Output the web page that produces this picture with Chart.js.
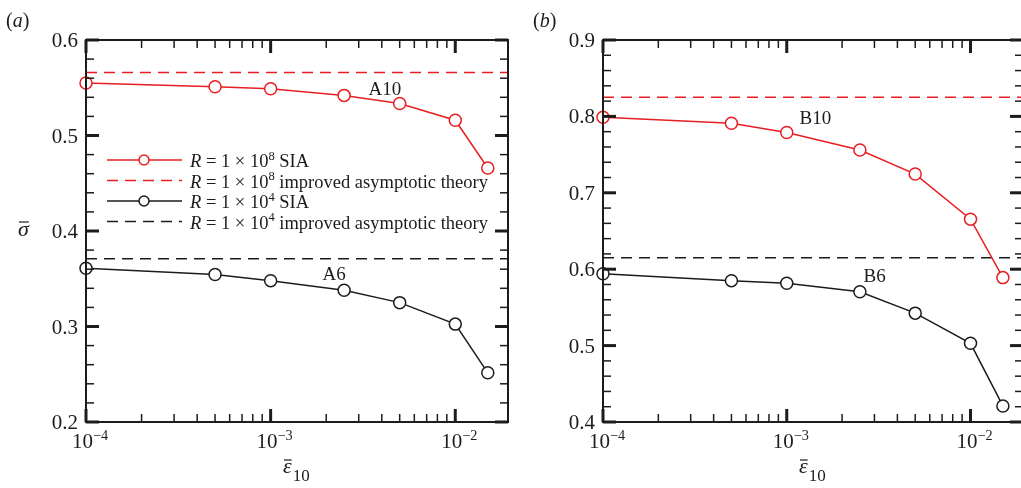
<!DOCTYPE html>
<html>
<head>
<meta charset="utf-8">
<script src="https://cdn.jsdelivr.net/npm/chart.js@4/dist/chart.umd.min.js"></script>
<style>
  html, body { margin: 0; padding: 0; background: #fff; overflow: hidden; width: 1021px; height: 488px; }
  #panelA { position: absolute; left: 0; top: 0; }
  #panelB { position: absolute; left: 510px; top: 0; }
</style>
</head>
<body>
<canvas id="panelA" width="510" height="488"></canvas>
<canvas id="panelB" width="530" height="488"></canvas>
<script>
// strain values shared by every curve
const epsValues = [1e-4, 5e-4, 1e-3, 2.5e-3, 5e-3, 1e-2, 1.5e-2];
const epsRange = [1e-4, 0.0193];

// panel (a): cases A10 (R = 1e8) and A6 (R = 1e4)
const sigmaA10 = [0.555, 0.551, 0.549, 0.542, 0.5335, 0.516, 0.466];
const sigmaA6 = [0.361, 0.3545, 0.348, 0.338, 0.325, 0.3025, 0.2515];
const theoryA10 = 0.566;
const theoryA6 = 0.371;
const yTicksA = [0.2, 0.3, 0.4, 0.5, 0.6];

// panel (b): cases B10 and B6
const sigmaB10 = [0.799, 0.791, 0.779, 0.756, 0.7245, 0.6655, 0.589];
const sigmaB6 = [0.594, 0.585, 0.5815, 0.5705, 0.5425, 0.503, 0.421];
const theoryB10 = 0.825;
const theoryB6 = 0.615;
const yTicksB = [0.4, 0.5, 0.6, 0.7, 0.8, 0.9];

const xTickExponents = [-4, -3, -2];

const RED = 'rgb(232,30,34)';
const INK = '#1c1c1c';
const SERIF = '"Liberation Serif", "Times New Roman", serif';
const TICK_FONT = 21;

function pts(ys) {
  return epsValues.map((e, i) => ({ x: e, y: ys[i] }));
}
function flat(v) {
  return [{ x: epsRange[0], y: v }, { x: epsRange[1], y: v }];
}

function seriesSet(color, sia, theory) {
  return [
    {
      data: pts(sia), borderColor: color, borderWidth: 1.5,
      pointRadius: 6, pointHoverRadius: 6, pointBorderWidth: 1.5,
      pointBorderColor: color, pointBackgroundColor: '#fff', clip: false
    },
    {
      data: flat(theory), borderColor: color, borderWidth: 1.5,
      borderDash: [11, 7], pointRadius: 0
    }
  ];
}

// draws a run of text pieces; sup pieces are raised and smaller
function richText(ctx, x, y, parts, size) {
  parts.forEach(p => {
    const fs = p.sup ? size * 0.68 : size;
    ctx.font = (p.italic ? 'italic ' : '') + fs + 'px ' + SERIF;
    ctx.fillText(p.t, x, p.sup ? y - size * 0.4 : y);
    x += ctx.measureText(p.t).width;
  });
  return x;
}
function richWidth(ctx, parts, size) {
  let w = 0;
  parts.forEach(p => {
    const fs = p.sup ? size * 0.68 : size;
    ctx.font = (p.italic ? 'italic ' : '') + fs + 'px ' + SERIF;
    w += ctx.measureText(p.t).width;
  });
  return w;
}

function seg(ctx, x1, y1, x2, y2) {
  ctx.beginPath();
  ctx.moveTo(x1, y1);
  ctx.lineTo(x2, y2);
  ctx.stroke();
}

// Tecplot-style boxed frame with inward ticks, labels and annotations
const framePlugin = {
  id: 'frame',
  afterDatasetsDraw(chart, args, o) {
    const { ctx, chartArea: a, scales: { x, y } } = chart;
    ctx.save();
    ctx.strokeStyle = INK;
    ctx.fillStyle = INK;
    ctx.lineCap = 'butt';

    ctx.lineWidth = 2;
    ctx.strokeRect(a.left, a.top, a.right - a.left, a.bottom - a.top);

    // x ticks: decades plus 2..9 minors, top and bottom
    xTickExponents.forEach(e => {
      for (let k = 1; k <= 9; k++) {
        const v = k * Math.pow(10, e);
        if (v > x.max * 1.0001) continue;
        const px = x.getPixelForValue(v);
        const len = k === 1 ? 13 : 8;
        ctx.lineWidth = k === 1 ? 3 : 1.5;
        seg(ctx, px, a.bottom, px, a.bottom - len);
        seg(ctx, px, a.top, px, a.top + len);
      }
    });

    // y ticks every 0.02, major every 0.1, left and right
    const n = Math.round((y.max - y.min) / 0.02);
    for (let i = 0; i <= n; i++) {
      const py = y.getPixelForValue(y.min + i * 0.02);
      const major = i % 5 === 0;
      const len = major ? 13 : 8;
      ctx.lineWidth = major ? 3 : 1.5;
      seg(ctx, a.left, py, a.left + len, py);
      seg(ctx, a.right, py, a.right - len, py);
    }

    // y tick labels
    ctx.textAlign = 'left';
    ctx.textBaseline = 'alphabetic';
    ctx.font = TICK_FONT + 'px ' + SERIF;
    o.yTicks.forEach(v => {
      const t = v.toFixed(1);
      const w = ctx.measureText(t).width;
      ctx.fillText(t, a.left - 8 - w, y.getPixelForValue(v) + 7);
    });

    // x tick labels 10^n
    xTickExponents.forEach(e => {
      const parts = [{ t: '10' }, { t: '\u2212' + (-e), sup: true }];
      const w = richWidth(ctx, parts, TICK_FONT);
      const px = x.getPixelForValue(Math.pow(10, e));
      richText(ctx, px + 4 - w / 2, a.bottom + 26, parts, TICK_FONT);
    });

    // x axis title: epsilon-bar with subscript 10
    const cx = (a.left + a.right) / 2 - 14;
    ctx.font = 'italic 22px ' + SERIF;
    const ew = ctx.measureText('\u03b5').width;
    ctx.fillText('\u03b5', cx, a.bottom + 51);
    ctx.lineWidth = 1.2;
    seg(ctx, cx + 1, a.bottom + 38, cx + ew, a.bottom + 38);
    ctx.font = '17px ' + SERIF;
    ctx.fillText('10', cx + ew + 1, a.bottom + 59);

    // y axis title: sigma-bar
    if (o.yTitle) {
      ctx.font = 'italic 22px ' + SERIF;
      const sw = ctx.measureText('\u03c3').width;
      const sx = 18, sy = y.getPixelForValue(0.4) + 5;
      ctx.fillText('\u03c3', sx, sy);
      seg(ctx, sx + 1, sy - 14, sx + sw, sy - 14);
    }

    // panel tag (a) / (b)
    richText(ctx, o.tag.x, 27, [{ t: '(' }, { t: o.tag.t, italic: true }, { t: ')' }], 20);

    // case names next to the curves
    ctx.font = '19px ' + SERIF;
    o.notes.forEach(nt => {
      const w = ctx.measureText(nt.t).width;
      ctx.fillText(nt.t, x.getPixelForValue(nt.x) - w / 2, y.getPixelForValue(nt.y) + 6.5);
    });

    // legend
    if (o.legend) {
      const lx = a.left + 21, ly = a.top + 120;
      o.legend.forEach((row, i) => {
        const ry = ly + i * 20.5;
        ctx.strokeStyle = row.color;
        ctx.lineWidth = 1.5;
        ctx.setLineDash(row.dash ? [11, 7] : []);
        seg(ctx, lx, ry, lx + 75, ry);
        ctx.setLineDash([]);
        if (!row.dash) {
          ctx.fillStyle = '#fff';
          ctx.beginPath();
          ctx.arc(lx + 37, ry, 5, 0, Math.PI * 2);
          ctx.fill();
          ctx.stroke();
        }
        ctx.fillStyle = INK;
        richText(ctx, lx + 83, ry + 7, [
          { t: 'R', italic: true }, { t: ' = 1 \u00d7 10' }, { t: row.exp, sup: true }, { t: ' ' + row.text }
        ], 18.5);
      });
    }
    ctx.restore();
  }
};

function makePanel(id, pad, yMin, yMax, datasets, frameOpts) {
  return new Chart(document.getElementById(id), {
    type: 'line',
    data: { datasets },
    options: {
      responsive: false,
      animation: false,
      layout: { padding: pad, autoPadding: false },
      plugins: { legend: { display: false }, tooltip: { enabled: false }, frame: frameOpts },
      scales: {
        x: { type: 'logarithmic', min: epsRange[0], max: epsRange[1], display: false },
        y: { type: 'linear', min: yMin, max: yMax, display: false }
      }
    },
    plugins: [framePlugin]
  });
}

makePanel('panelA', { left: 86, top: 40, right: 2, bottom: 66 }, 0.2, 0.6,
  [...seriesSet(RED, sigmaA10, theoryA10), ...seriesSet(INK, sigmaA6, theoryA6)],
  {
    yTicks: yTicksA, yTitle: true, tag: { t: 'a', x: 6 },
    notes: [{ t: 'A10', x: 4.16e-3, y: 0.549 }, { t: 'A6', x: 2.21e-3, y: 0.3555 }],
    legend: [
      { color: RED, dash: false, exp: '8', text: 'SIA' },
      { color: RED, dash: true, exp: '8', text: 'improved asymptotic theory' },
      { color: INK, dash: false, exp: '4', text: 'SIA' },
      { color: INK, dash: true, exp: '4', text: 'improved asymptotic theory' }
    ]
  });

makePanel('panelB', { left: 93, top: 40, right: 17, bottom: 66 }, 0.4, 0.9,
  [...seriesSet(RED, sigmaB10, theoryB10), ...seriesSet(INK, sigmaB6, theoryB6)],
  {
    yTicks: yTicksB, yTitle: false, tag: { t: 'b', x: 23 },
    notes: [{ t: 'B10', x: 1.43e-3, y: 0.798 }, { t: 'B6', x: 3.01e-3, y: 0.592 }]
  });
</script>
</body>
</html>
